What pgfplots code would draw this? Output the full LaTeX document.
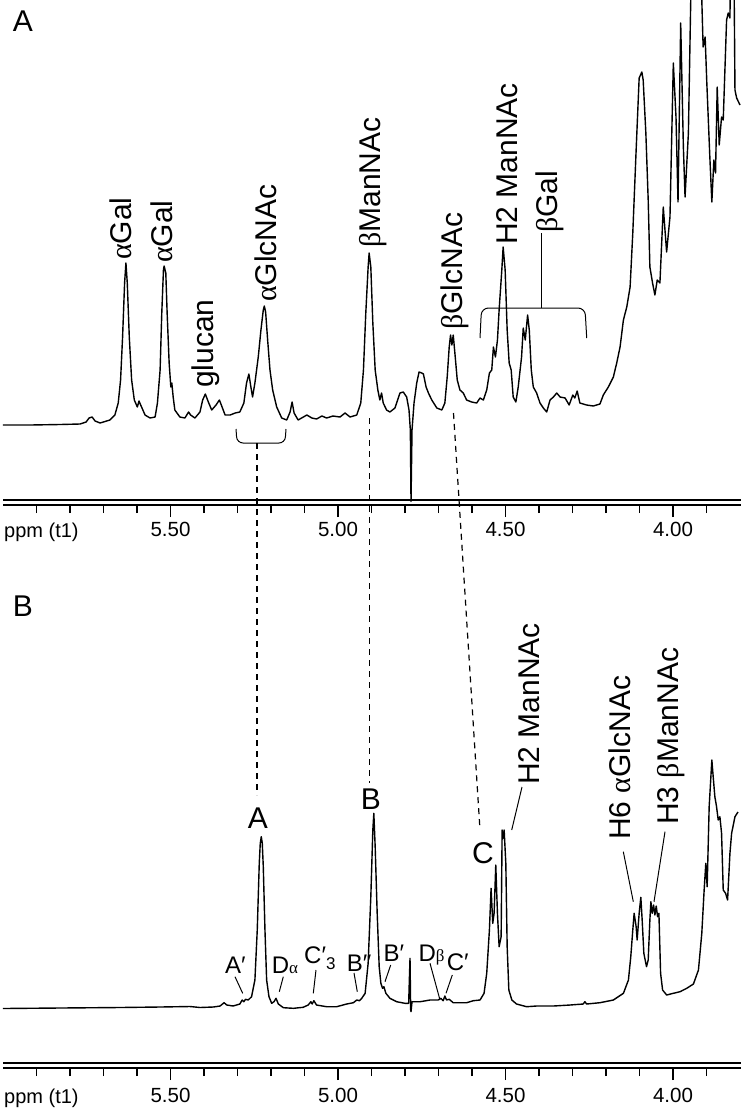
\documentclass[border=0pt]{standalone}
\usepackage{pgfplots}
\pgfplotsset{compat=1.18}
\usepackage{fontspec}
\setmainfont{Liberation Sans}
\newfontfamily\grk{Liberation Serif}
\newcommand{\al}{{\grk α}}
\newcommand{\be}{{\grk β}}

\pgfplotsset{
  nmr/.style={
    scale only axis, width=738pt, height=505pt,
    x dir=reverse, xmin=3.797, xmax=6.0, ymin=0, ymax=505,
    axis x line*=bottom, axis y line=none,
    every outer x axis line/.append style={-},
    x axis line style={-, line width=1.2pt},
    xtick={4,4.5,5,5.5}, xticklabels={4.00,4.50,5.00,5.50},
    minor xtick={3.9,4.1,4.2,4.3,4.4,4.6,4.7,4.8,4.9,5.1,5.2,5.3,5.4,5.6,5.7,5.8,5.9},
    tick align=outside, major tick length=12pt, minor tick length=8pt,
    every tick/.style={black, line width=1.2pt},
    xticklabel style={font=\fontsize{20.5}{24}\selectfont, inner sep=0pt},
    clip=true,
  },
  spec/.style={black, line width=1.4pt, line join=round, mark=none},
}
\tikzset{
  big/.style={font=\fontsize{30}{36}\selectfont, inner sep=0pt},
  vlab/.style={big, rotate=90, anchor=base west},
  small/.style={font=\fontsize{24}{28}\selectfont, inner sep=0pt, anchor=base west},
  lead/.style={line width=1pt},
  dsh/.style={line width=1.2pt, dash pattern=on 6pt off 5pt},
  ppm/.style={anchor=base west, inner sep=0pt, font=\fontsize{20}{24}\selectfont},
}

\begin{document}
\begin{tikzpicture}[x=1pt, y=1pt]
\useasboundingbox (0,0) rectangle (741,-1112);
\coordinate (originA) at (3,-505);
\coordinate (originB) at (3,-1068);

% panel A
\begin{axis}[nmr, at={(originA)}, anchor=south west,
  xticklabel style={yshift=-5pt}]
\addplot[spec] coordinates {
(6.000,80) (5.919,80) (5.830,80.5) (5.770,81) (5.752,83) (5.743,87) (5.734,88) (5.725,84)
(5.710,82) (5.681,85) (5.666,90) (5.656,102) (5.649,125) (5.643,168) (5.637,222) (5.633,242)
(5.629,222) (5.623,168) (5.616,125) (5.608,105) (5.599,98) (5.594,104) (5.589,100) (5.585,97)
(5.576,90) (5.561,87) (5.546,88) (5.539,102) (5.531,135) (5.526,192) (5.521,235) (5.519,239)
(5.514,232) (5.510,192) (5.504,142) (5.499,118) (5.496,122) (5.492,108) (5.487,95) (5.472,88)
(5.457,87) (5.446,93) (5.440,90) (5.427,87) (5.412,93) (5.404,105) (5.396,111) (5.387,103)
(5.377,95) (5.364,100) (5.354,105) (5.346,98) (5.337,90) (5.322,90) (5.307,92) (5.293,93)
(5.281,102) (5.273,122) (5.266,131) (5.260,118) (5.255,108) (5.248,122) (5.238,148) (5.230,175)
(5.223,195) (5.220,199) (5.216,193) (5.210,165) (5.203,135) (5.195,115) (5.183,98) (5.168,87)
(5.153,85) (5.143,93) (5.137,103) (5.131,92) (5.119,85) (5.093,90) (5.078,87) (5.064,86)
(5.048,89) (5.034,87) (5.015,89) (4.994,88) (4.979,92) (4.964,88) (4.944,90) (4.932,102)
(4.924,135) (4.917,192) (4.910,238) (4.907,252) (4.902,238) (4.896,182) (4.889,135) (4.881,115)
(4.875,105) (4.870,112) (4.865,102) (4.855,95) (4.845,93) (4.830,97) (4.815,112) (4.805,113)
(4.795,108) (4.788,95) (4.784,75) (4.782,3.5) (4.779,75) (4.773,102) (4.765,122) (4.758,133)
(4.750,132) (4.745,131) (4.737,118) (4.730,112) (4.720,105) (4.705,97) (4.690,95) (4.681,102)
(4.674,128) (4.668,158) (4.664,170) (4.660,160) (4.656,170) (4.650,148) (4.644,125) (4.636,115)
(4.626,112) (4.616,105) (4.601,103) (4.586,102) (4.576,107) (4.566,105) (4.556,115) (4.548,132)
(4.541,135) (4.536,158) (4.530,148) (4.524,165) (4.519,195) (4.511,235) (4.507,258) (4.501,235)
(4.495,175) (4.489,142) (4.483,135) (4.477,108) (4.469,103) (4.462,118) (4.452,148) (4.447,177)
(4.441,165) (4.434,190) (4.429,175) (4.423,135) (4.417,118) (4.407,112) (4.397,102) (4.387,97)
(4.377,93) (4.367,105) (4.357,108) (4.347,112) (4.337,108) (4.322,107) (4.310,100) (4.299,110)
(4.293,107) (4.286,114) (4.278,102) (4.258,100) (4.238,99) (4.218,101) (4.208,110) (4.193,118)
(4.178,128) (4.168,142) (4.158,158) (4.148,185) (4.138,198) (4.128,218) (4.120,272) (4.110,355)
(4.101,427) (4.093,433) (4.089,425) (4.081,372) (4.074,305) (4.069,238) (4.061,222) (4.054,210)
(4.047,225) (4.039,222) (4.029,298) (4.019,253) (4.009,288) (3.999,442) (3.991,388) (3.985,303)
(3.977,482) (3.969,358) (3.964,308) (3.954,372) (3.947,505) (3.931,805) (3.914,505) (3.910,458)
(3.904,468) (3.899,422) (3.890,348) (3.884,303) (3.878,345) (3.873,332) (3.868,418) (3.862,360)
(3.855,388) (3.850,385) (3.840,485) (3.835,492) (3.830,487) (3.822,705) (3.815,415) (3.810,407)
(3.800,400)
};
\end{axis}

% panel B
\begin{axis}[nmr, at={(originB)}, anchor=south west,
  xticklabel style={yshift=-8pt}]
\addplot[spec] coordinates {
(6.000,59.5) (5.830,60) (5.651,60.5) (5.531,61) (5.442,61.5) (5.412,60.5) (5.372,61) (5.352,62)
(5.340,65.3) (5.332,63) (5.313,62) (5.293,64) (5.286,68) (5.281,66.3) (5.276,68.7) (5.268,68)
(5.258,71.3) (5.248,88) (5.241,138) (5.235,204.7) (5.232,224.7) (5.229,231.3) (5.226,224.7) (5.223,201.3)
(5.218,138) (5.213,88) (5.206,71.3) (5.198,64.7) (5.191,66.3) (5.185,69.7) (5.178,64) (5.163,60.3)
(5.133,59.7) (5.104,60.7) (5.089,63) (5.081,66.3) (5.077,64) (5.072,67.3) (5.064,63) (5.034,61.3)
(5.004,61.3) (4.974,64) (4.954,65.3) (4.944,68) (4.936,67.3) (4.929,69.7) (4.919,74.7) (4.910,104.7)
(4.902,171.3) (4.896,238) (4.893,254.7) (4.889,221.3) (4.883,154.7) (4.877,101.3) (4.872,84.7) (4.867,79.7)
(4.863,81.3) (4.857,74.7) (4.845,69.7) (4.825,66.3) (4.800,64.7) (4.789,64.7) (4.787,88) (4.785,109.7)
(4.783,58) (4.782,56.3) (4.779,66.3) (4.755,66.3) (4.725,68) (4.701,68) (4.693,69.7) (4.686,67.3)
(4.681,72) (4.676,68) (4.668,68.7) (4.656,65.3) (4.616,65.3) (4.596,67.3) (4.576,68) (4.564,74.7)
(4.556,94.7) (4.548,138) (4.543,179.7) (4.538,144.7) (4.534,154.7) (4.529,203) (4.524,154.7) (4.519,121.3)
(4.513,131.3) (4.510,238) (4.507,229.7) (4.504,238) (4.499,204.7) (4.495,121.3) (4.490,78) (4.481,68)
(4.467,64) (4.437,61.3) (4.407,62) (4.357,62) (4.307,63) (4.268,64) (4.263,66.3) (4.258,64)
(4.218,65.3) (4.178,68) (4.148,74.7) (4.133,88) (4.126,111.3) (4.120,138) (4.116,154.7) (4.110,141.3)
(4.107,128) (4.101,154.7) (4.096,170.7) (4.092,148) (4.087,114.7) (4.079,101.3) (4.074,108) (4.069,148)
(4.066,166.3) (4.062,154.7) (4.058,163) (4.054,153) (4.050,162) (4.046,151.3) (4.042,154.7) (4.037,94.7)
(4.031,78) (4.019,73) (3.999,74.7) (3.979,76.3) (3.959,79.7) (3.939,84) (3.924,98) (3.914,134.7)
(3.907,178) (3.902,204.7) (3.898,181.3) (3.892,261.3) (3.884,308) (3.880,291.3) (3.875,271.3) (3.870,261.3)
(3.865,248) (3.860,251.3) (3.855,234.7) (3.850,178) (3.843,174.7) (3.837,168) (3.830,214.7) (3.825,234.7)
(3.815,251.3) (3.806,256)
};
\end{axis}

% second rule of the double axis lines
\draw[line width=1.2pt] (3,-500) -- (741,-500);
\draw[line width=1.2pt] (3,-1063) -- (741,-1063);
\node[ppm] at (4,-537) {ppm (t1)};
\node[ppm] at (4,-1103) {ppm (t1)};

% panel letters
\node[big] at (23,-21) {A};
\node[big] at (23,-606) {B};

% labels, panel A
\node[vlab] at (131,-260) {\al Gal};
\node[vlab] at (172,-263) {\al Gal};
\node[vlab] at (213,-388) {glucan};
\node[vlab] at (276,-302) {\al GlcNAc};
\node[vlab] at (380,-248) {\be ManNAc};
\node[vlab] at (462,-330) {\be GlcNAc};
\node[vlab] at (517,-245) {H2 ManNAc};
\node[vlab] at (557,-233) {\be Gal};
\draw[lead, rounded corners=7pt] (480,-338) -- (481.5,-308) -- (585,-308) -- (586.7,-338);
\draw[lead] (541.7,-308) -- (541.7,-233);
\draw[lead, rounded corners=6pt] (236,-429) -- (237,-443) -- (285,-443) -- (286,-429);

% dashed correlations
\draw[dsh] (257,-443) -- (257,-795);
\draw[dsh] (369.5,-418) -- (369.5,-783);
\draw[dsh] (453.5,-413) -- (480,-830);

% labels, panel B
\node[big] at (258,-818) {A};
\node[big] at (371,-799) {B};
\node[big] at (483,-853) {C};
\node[vlab] at (539,-785) {H2 ManNAc};
\node[vlab] at (630,-840) {H6 \al GlcNAc};
\node[vlab] at (678,-825) {H3 \be ManNAc};
\draw[lead] (511.7,-830) -- (522,-787);
\draw[lead] (623.3,-851.7) -- (633.3,-901.7);
\draw[lead] (665,-831.7) -- (654,-901.7);

\node[small] at (225,-973) {A′};
\node[small] at (271.7,-973) {D{\fontsize{17}{20}\selectfont\grk α}};
\node[small] at (304,-963) {C′\raisebox{-6pt}{\fontsize{17}{20}\selectfont 3}};
\node[small] at (346.7,-971.7) {B″};
\node[small] at (383.3,-961.7) {B′};
\node[small] at (418.3,-961.7) {D{\fontsize{17}{20}\selectfont\grk β}};
\node[small] at (446.7,-970) {C′};
\draw[lead] (235,-976.7) -- (242.7,-993.3);
\draw[lead] (283.3,-976.7) -- (279.3,-991.7);
\draw[lead] (316,-970) -- (313.3,-993.3);
\draw[lead] (354,-973) -- (357.3,-991.7);
\draw[lead] (390.7,-965) -- (385,-981.7);
\draw[lead] (430,-963.3) -- (440,-1000);
\draw[lead] (452.3,-975) -- (446,-993.3);
\end{tikzpicture}
\end{document}
